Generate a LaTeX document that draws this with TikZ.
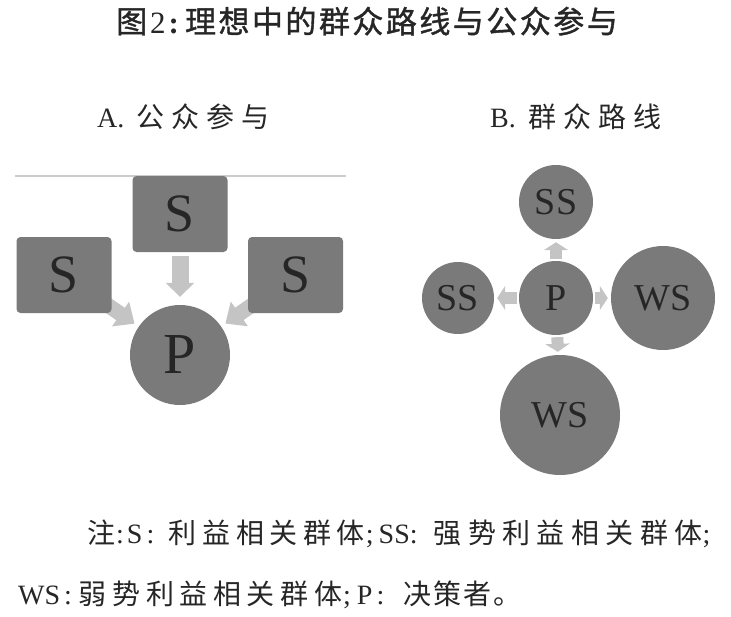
\documentclass[tikz,border=0pt]{standalone}
\usepackage{fontspec}
\setmainfont{Liberation Serif}
\newfontfamily\cjkt{Noto Sans CJK SC}[LetterSpace=8, FakeBold=1.2]
\newfontfamily\cjkl{Noto Sans CJK SC}[LetterSpace=25]
\newfontfamily\cjka{Noto Sans CJK SC}[LetterSpace=20]
\newfontfamily\cjkc{Noto Sans CJK SC}[LetterSpace=23]
\newfontfamily\cjkb{Noto Sans CJK SC}[LetterSpace=7]
\usetikzlibrary{arrows.meta, backgrounds}
\definecolor{blockgray}{RGB}{122,122,122}
\definecolor{arrowgray}{RGB}{196,196,196}
\definecolor{inkgray}{RGB}{38,38,38}
\definecolor{rulegray}{RGB}{204,204,204}
\newcommand{\fsz}[1]{\fontsize{#1}{#1}\selectfont}

\begin{document}
\begin{tikzpicture}[x=1pt, y=-1pt,
	sbox/.style = {fill=blockgray, rounded corners=4pt, minimum width=95pt, minimum height=76pt, inner sep=0pt, text=inkgray, font=\fsz{54}},
	grp/.style = {circle, fill=blockgray, inner sep=0pt, text=inkgray, font=\fsz{38}},
	bigarr/.style = {draw=arrowgray, line width=17pt, -{Triangle[length=14pt, width=28pt]}, shorten <=4pt, shorten >=8pt},
	diagarr/.style = {draw=arrowgray, line width=15pt, -{Triangle[length=17pt, width=29pt]}, shorten <=-10pt, shorten >=5pt},
	smallarr/.style = {draw=arrowgray, line width=12pt, -{Triangle[length=8pt, width=24pt]}, shorten <=2pt, shorten >=3pt},
	txt/.style = {anchor=base west, inner sep=0pt, text=inkgray}]
	\useasboundingbox (0,0) rectangle (731,616);

	% A: public participation
	\node[grp, minimum size=100pt, font=\fsz{58}] (Pa) at (180,355) {P};
	\node[sbox] (Sa) at (180,214) {S};
	\node[sbox] (Sl) at (64,275) {S};
	\node[sbox] (Sr) at (295.5,275) {S};

	% B: mass line
	\node[grp, minimum size=74pt] (Pb) at (556,298) {P};
	\node[grp, minimum size=74pt] (Su) at (556,202) {SS};
	\node[grp, minimum size=72pt] (Sw) at (458,298) {SS};
	\node[grp, minimum size=104pt] (We) at (663,298) {WS};
	\node[grp, minimum size=120pt] (Wd) at (560,415) {WS};

	\begin{scope}[on background layer]
		\draw[rulegray, line width=2pt] (15,176) -- (346,176);
		\draw[bigarr] (Sa) -- (Pa);
		\draw[diagarr] (Sl) -- (Pa);
		\draw[diagarr] (Sr) -- (Pa);
		\draw[smallarr] (Pb) -- (Su);
		\draw[smallarr] (Pb) -- (Sw);
		\draw[smallarr] (Pb) -- (We);
		\draw[smallarr] (Pb) -- (Wd);
	\end{scope}

	% texts
	\node[txt, font=\fsz{31}] (title) at (116,33) {{\cjkt 图}\hspace{3pt}2\hspace{3pt}\textbf{:}\hspace{6pt}{\cjkt 理想中的群众路线与公众参与}};
	\node[txt, font=\fsz{28}] (labA) at (97,127) {A.\hspace{12pt}{\cjkl 公众参与}};
	\node[txt, font=\fsz{28}] (labB) at (490,127) {B.\hspace{13pt}{\cjkl 群众路线}};
	\node[txt, font=\fsz{28}] (note1) at (87,543) {{\cjka 注}\hspace{1pt}:\hspace{3pt}S\hspace{4pt}:\hspace{14.6pt}{\cjka 利益相关群体}\hspace{1pt};\hspace{5pt}SS:\hspace{16pt}{\cjkc 强势利益相关群体};};
	\node[txt, font=\fsz{28}] (note2) at (18,604) {WS\hspace{4pt}:\hspace{7pt}{\cjka 弱势利益相关群体}\hspace{1pt};\hspace{6pt}P\hspace{4pt}:\hspace{19pt}{\cjkb 决策者。}};
\end{tikzpicture}
\end{document}
